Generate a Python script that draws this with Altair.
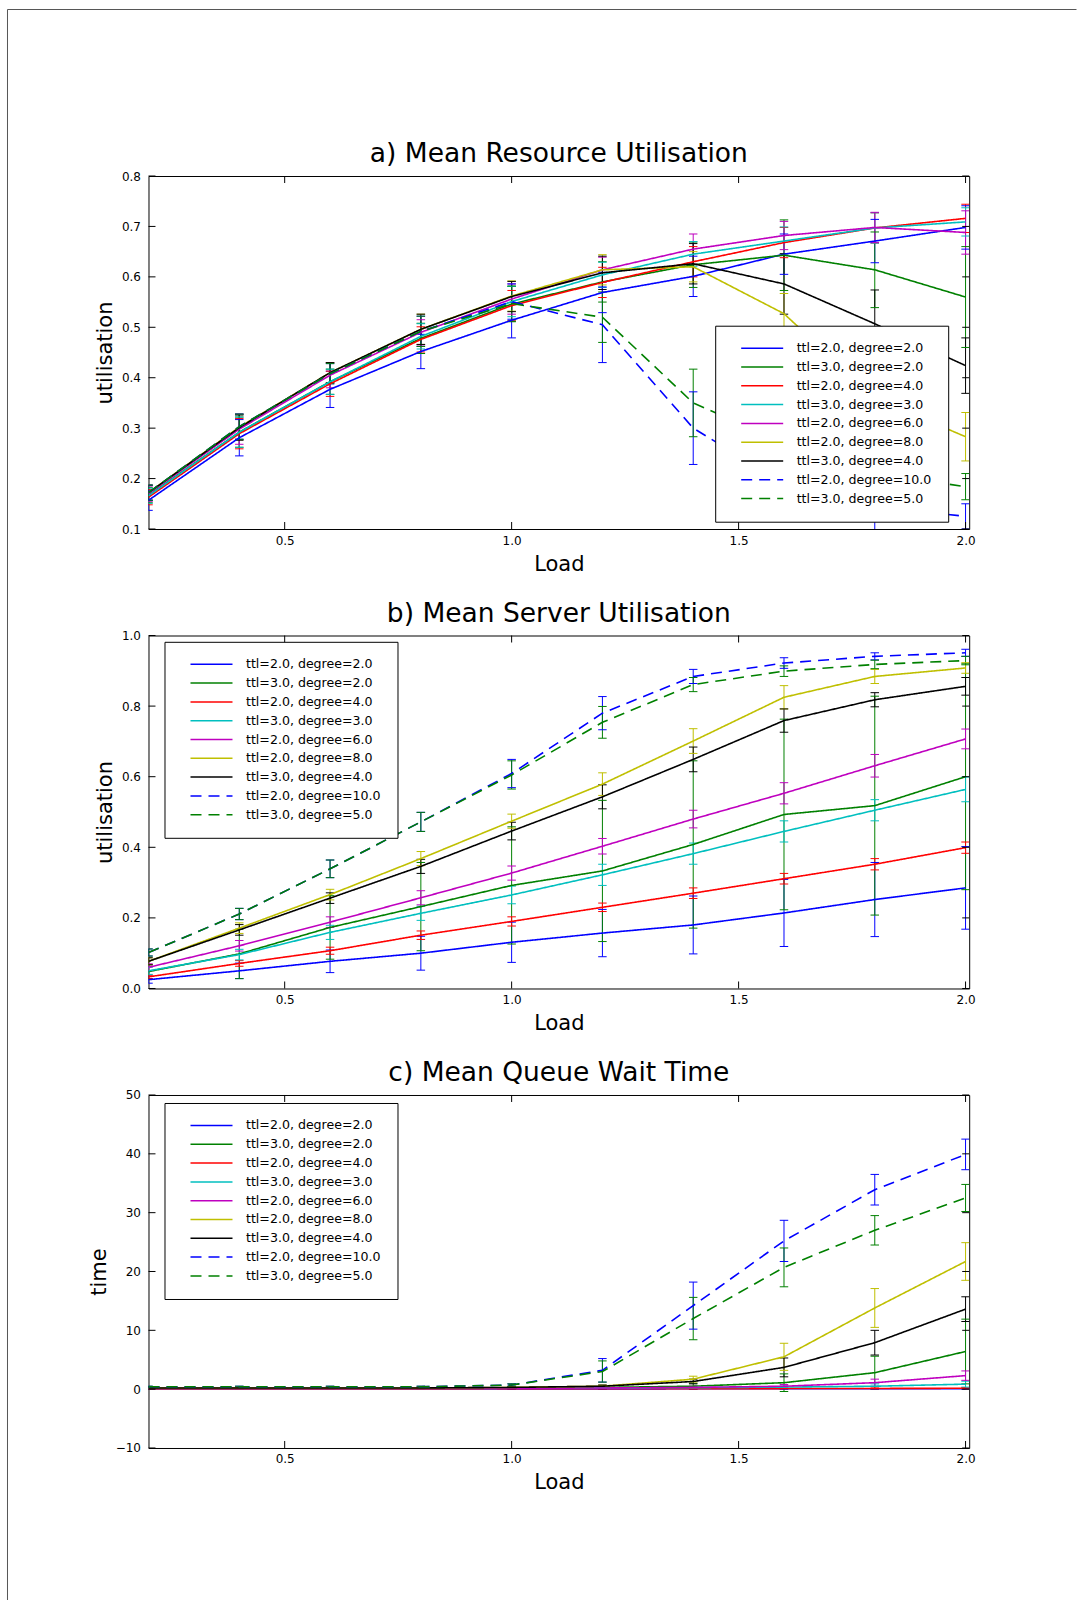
import altair as alt
import pandas as pd

# ---------------- data ----------------
LOAD = [0.2, 0.4, 0.6, 0.8, 1.0, 1.2, 1.4, 1.6, 1.8, 2.0]
SERIES = [
    "ttl=2.0, degree=2.0", "ttl=3.0, degree=2.0", "ttl=2.0, degree=4.0",
    "ttl=3.0, degree=3.0", "ttl=2.0, degree=6.0", "ttl=2.0, degree=8.0",
    "ttl=3.0, degree=4.0", "ttl=2.0, degree=10.0", "ttl=3.0, degree=5.0",
]
TITLES = ["a) Mean Resource Utilisation", "b) Mean Server Utilisation",
          "c) Mean Queue Wait Time"]
XTICKS = [0.5, 1.0, 1.5, 2.0]
YTICKS_A = [0.1, 0.2, 0.3, 0.4, 0.5, 0.6, 0.7, 0.8]
YTICKS_B = [0.0, 0.2, 0.4, 0.6, 0.8, 1.0]
YTICKS_C = [-10, 0, 10, 20, 30, 40, 50]

# a) Mean Resource Utilisation
A_B22 = [0.157, 0.281, 0.377, 0.452, 0.514, 0.569, 0.601, 0.645, 0.671, 0.698]
A_G32 = [0.167, 0.292, 0.392, 0.478, 0.546, 0.590, 0.624, 0.643, 0.614, 0.560]
A_R24 = [0.163, 0.289, 0.388, 0.476, 0.543, 0.589, 0.630, 0.668, 0.697, 0.716]
A_C33 = [0.166, 0.292, 0.392, 0.482, 0.551, 0.604, 0.645, 0.671, 0.697, 0.709]
A_M26 = [0.170, 0.298, 0.405, 0.490, 0.556, 0.614, 0.655, 0.682, 0.698, 0.688]
A_Y28 = [0.172, 0.302, 0.410, 0.496, 0.562, 0.614, 0.620, 0.527, 0.360, 0.283]
A_K34 = [0.172, 0.301, 0.410, 0.496, 0.561, 0.608, 0.626, 0.586, 0.507, 0.424]
A_B210 = [0.172, 0.303, 0.408, 0.492, 0.551, 0.505, 0.300, 0.190, 0.145, 0.125]
A_G35 = [0.172, 0.303, 0.408, 0.492, 0.547, 0.520, 0.350, 0.270, 0.210, 0.184]

EA_B22 = [0.020, 0.036, 0.036, 0.034, 0.035, 0.040, 0.040, 0.040, 0.043, 0.043]
EA_G32 = [0.015, 0.030, 0.025, 0.030, 0.035, 0.040, 0.045, 0.070, 0.075, 0.100]
EA_R24 = [0.015, 0.030, 0.025, 0.025, 0.030, 0.030, 0.030, 0.030, 0.030, 0.028]
EA_C33 = [0.015, 0.030, 0.025, 0.025, 0.030, 0.025, 0.025, 0.028, 0.030, 0.028]
EA_M26 = [0.015, 0.030, 0.025, 0.025, 0.030, 0.025, 0.030, 0.028, 0.030, 0.043]
EA_Y28 = [0.015, 0.025, 0.020, 0.030, 0.030, 0.030, 0.030, 0.040, 0.050, 0.048]
EA_K34 = [0.015, 0.025, 0.020, 0.030, 0.030, 0.033, 0.040, 0.060, 0.067, 0.055]
EA_B210 = [0.015, 0.025, 0.020, 0.030, 0.035, 0.075, 0.072, 0.060, 0.050, 0.025]
EA_G35 = [0.015, 0.025, 0.020, 0.030, 0.035, 0.050, 0.067, 0.060, 0.050, 0.026]

# b) Mean Server Utilisation
B_B22 = [0.025, 0.050, 0.077, 0.100, 0.131, 0.157, 0.180, 0.214, 0.252, 0.285]
B_G32 = [0.048, 0.098, 0.173, 0.232, 0.292, 0.333, 0.408, 0.493, 0.518, 0.600]
B_R24 = [0.033, 0.071, 0.107, 0.151, 0.190, 0.230, 0.270, 0.311, 0.352, 0.399]
B_C33 = [0.050, 0.096, 0.159, 0.213, 0.265, 0.322, 0.382, 0.445, 0.505, 0.564]
B_M26 = [0.060, 0.121, 0.188, 0.257, 0.327, 0.403, 0.480, 0.553, 0.631, 0.707]
B_Y28 = [0.077, 0.171, 0.266, 0.368, 0.474, 0.579, 0.701, 0.825, 0.884, 0.908]
B_K34 = [0.077, 0.166, 0.256, 0.346, 0.446, 0.543, 0.649, 0.759, 0.818, 0.856]
B_B210 = [0.102, 0.211, 0.339, 0.472, 0.609, 0.780, 0.884, 0.922, 0.941, 0.951]
B_G35 = [0.102, 0.211, 0.339, 0.472, 0.605, 0.754, 0.861, 0.899, 0.918, 0.929]

EB_B22 = [0.010, 0.022, 0.032, 0.048, 0.057, 0.067, 0.082, 0.095, 0.105, 0.117]
EB_G32 = [0.020, 0.070, 0.090, 0.125, 0.166, 0.200, 0.237, 0.270, 0.310, 0.320]
EB_R24 = [0.005, 0.008, 0.010, 0.012, 0.013, 0.012, 0.015, 0.015, 0.016, 0.016]
EB_C33 = [0.010, 0.015, 0.020, 0.020, 0.025, 0.030, 0.030, 0.030, 0.030, 0.035]
EB_M26 = [0.010, 0.015, 0.015, 0.020, 0.020, 0.022, 0.025, 0.030, 0.032, 0.028]
EB_Y28 = [0.010, 0.015, 0.015, 0.020, 0.020, 0.032, 0.035, 0.033, 0.020, 0.015]
EB_K34 = [0.010, 0.015, 0.015, 0.020, 0.025, 0.034, 0.035, 0.033, 0.020, 0.025]
EB_B210 = [0.010, 0.016, 0.025, 0.027, 0.040, 0.047, 0.020, 0.015, 0.010, 0.010]
EB_G35 = [0.010, 0.016, 0.025, 0.027, 0.040, 0.045, 0.020, 0.015, 0.012, 0.012]

# c) Mean Queue Wait Time
C_B22 = [0.05, 0.05, 0.05, 0.05, 0.05, 0.05, 0.06, 0.06, 0.07, 0.08]
C_G32 = [0.10, 0.10, 0.10, 0.10, 0.20, 0.30, 0.50, 1.10, 2.80, 6.40]
C_R24 = [0.05, 0.05, 0.05, 0.05, 0.06, 0.07, 0.08, 0.10, 0.12, 0.15]
C_C33 = [0.10, 0.10, 0.10, 0.10, 0.15, 0.20, 0.25, 0.35, 0.50, 0.85]
C_M26 = [0.10, 0.10, 0.10, 0.10, 0.15, 0.20, 0.30, 0.50, 1.10, 2.30]
C_Y28 = [0.20, 0.20, 0.20, 0.20, 0.30, 0.50, 1.70, 5.50, 13.80, 21.70]
C_K34 = [0.20, 0.20, 0.20, 0.20, 0.30, 0.50, 1.30, 3.70, 7.90, 13.60]
C_B210 = [0.40, 0.40, 0.40, 0.40, 0.70, 3.20, 14.20, 25.20, 33.90, 39.90]
C_G35 = [0.40, 0.40, 0.40, 0.40, 0.70, 3.00, 12.00, 20.70, 27.00, 32.50]

EC_B22 = [0.05, 0.05, 0.05, 0.05, 0.05, 0.05, 0.05, 0.05, 0.05, 0.05]
EC_G32 = [0.10, 0.10, 0.10, 0.10, 0.10, 0.30, 0.50, 1.50, 2.80, 5.50]
EC_R24 = [0.05, 0.05, 0.05, 0.05, 0.05, 0.05, 0.05, 0.05, 0.08, 0.10]
EC_C33 = [0.05, 0.05, 0.05, 0.05, 0.05, 0.10, 0.10, 0.20, 0.40, 0.50]
EC_M26 = [0.05, 0.05, 0.05, 0.05, 0.05, 0.10, 0.20, 0.30, 0.60, 0.80]
EC_Y28 = [0.10, 0.10, 0.10, 0.10, 0.10, 0.20, 0.50, 2.30, 3.30, 3.20]
EC_K34 = [0.10, 0.10, 0.10, 0.10, 0.10, 0.20, 0.40, 1.60, 2.10, 2.10]
EC_B210 = [0.10, 0.10, 0.10, 0.10, 0.20, 2.00, 4.00, 3.50, 2.60, 2.60]
EC_G35 = [0.10, 0.10, 0.10, 0.10, 0.20, 1.80, 3.60, 3.30, 2.50, 2.30]

# ---------------- styles ----------------
COLORS = ["#0000ff", "#008000", "#ff0000", "#00bfbf", "#bf00bf",
          "#bfbf00", "#000000", "#0000ff", "#008000"]
DASHES = [[1, 0], [1, 0], [1, 0], [1, 0], [1, 0], [1, 0], [1, 0], [11, 7], [11, 7]]

FONT = "DejaVu Sans"
W = 820.7
H = 353
XSCALE = alt.Scale(domain=[0.2, 2.008], nice=False, zero=False)


def build_df(values, errors):
    rows = []
    for s, vals, errs in zip(SERIES, values, errors):
        for l, v, e in zip(LOAD, vals, errs):
            rows.append({"load": l, "value": v, "lo": v - e, "hi": v + e, "series": s})
    return pd.DataFrame(rows)


def panel(values, errors, title, ytitle, ydomain, yticks, yfmt, lx, ly, frame=False):
    df = build_df(values, errors)
    yscale = alt.Scale(domain=ydomain, nice=False, zero=False)
    cscale = alt.Scale(domain=SERIES, range=COLORS)
    dscale = alt.Scale(domain=SERIES, range=DASHES)
    leg = alt.Legend(
        title=None, orient="none", legendX=lx, legendY=ly,
        symbolType="stroke", symbolSize=1764, symbolStrokeWidth=1.5,
        clipHeight=13, rowPadding=4.8, padding=16, symbolOffset=9,
        labelOffset=12.5, labelFont=FONT, labelFontSize=12.6, labelColor="black",
        strokeColor="black", fillColor="white", cornerRadius=0, zindex=1,
        labelLimit=0,
    )
    xaxis = alt.Axis(values=XTICKS, format=".1f", title="Load")
    yaxis = alt.Axis(values=yticks, format=yfmt, title=ytitle)

    def X(f):
        return alt.X(f, scale=XSCALE, axis=xaxis)

    def Y(f):
        return alt.Y(f, scale=yscale, axis=yaxis)

    color = alt.Color("series:N", scale=cscale, legend=leg)
    dash = alt.StrokeDash("series:N", scale=dscale, legend=leg)

    bars = alt.Chart(df).mark_rule(strokeWidth=1, clip=True).encode(
        x=X("load:Q"), y=Y("lo:Q"), y2="hi:Q", color=color)
    caps = alt.Chart(df).transform_fold(["lo", "hi"], as_=["end", "cap"]).mark_point(
        shape="stroke", size=72, strokeWidth=1, filled=False, opacity=1, clip=True
    ).encode(x=X("load:Q"), y=Y("cap:Q"), color=color)
    lines = alt.Chart(df).mark_line(strokeWidth=1.6, clip=True).encode(
        x=X("load:Q"), y=Y("value:Q"), color=color, strokeDash=dash)

    xt = pd.DataFrame({"t": XTICKS})
    yt = pd.DataFrame({"t": yticks})
    tk = dict(strokeWidth=1, color="black")
    t1 = alt.Chart(xt).mark_rule(**tk).encode(x=X("t:Q"), y=alt.value(H), y2=alt.value(H - 7))
    t2 = alt.Chart(xt).mark_rule(**tk).encode(x=X("t:Q"), y=alt.value(0), y2=alt.value(7))
    t3 = alt.Chart(yt).mark_rule(**tk).encode(y=Y("t:Q"), x=alt.value(0), x2=alt.value(7))
    t4 = alt.Chart(yt).mark_rule(**tk).encode(y=Y("t:Q"), x=alt.value(W), x2=alt.value(W - 7))

    one = pd.DataFrame({"k": [0]})
    ttl = alt.Chart(one).mark_text(
        text=title, font=FONT, fontSize=26.5, color="black", align="center",
        baseline="alphabetic").encode(x=alt.value(W / 2), y=alt.value(-14))
    layers = [bars, caps, lines, t1, t2, t3, t4, ttl]
    if frame:
        # figure border (top and left edges of the figure canvas)
        layers.append(alt.Chart(one).mark_rule(color="#555555", strokeWidth=1).encode(
            x=alt.value(-141), y=alt.value(-166.5), y2=alt.value(1424)))
        layers.append(alt.Chart(one).mark_rule(color="#555555", strokeWidth=1).encode(
            x=alt.value(-141), x2=alt.value(928), y=alt.value(-166.5)))

    return alt.layer(*layers).properties(width=W, height=H)


pa = panel([A_B22, A_G32, A_R24, A_C33, A_M26, A_Y28, A_K34, A_B210, A_G35],
           [EA_B22, EA_G32, EA_R24, EA_C33, EA_M26, EA_Y28, EA_K34, EA_B210, EA_G35],
           TITLES[0], "utilisation", [0.1, 0.8], YTICKS_A, ".1f",
           566.7, 149.7, frame=True)
pb = panel([B_B22, B_G32, B_R24, B_C33, B_M26, B_Y28, B_K34, B_B210, B_G35],
           [EB_B22, EB_G32, EB_R24, EB_C33, EB_M26, EB_Y28, EB_K34, EB_B210, EB_G35],
           TITLES[1], "utilisation", [0.0, 1.0], YTICKS_B, ".1f", 16, 6.3)
pc = panel([C_B22, C_G32, C_R24, C_C33, C_M26, C_Y28, C_K34, C_B210, C_G35],
           [EC_B22, EC_G32, EC_R24, EC_C33, EC_M26, EC_Y28, EC_K34, EC_B210, EC_G35],
           TITLES[2], "time", [-10, 50], YTICKS_C, "d", 16, 8)

chart = alt.vconcat(pa, pb, pc, spacing=106.5, bounds="flush").resolve_scale(
    color="independent", strokeDash="independent", x="independent", y="independent"
).resolve_legend(color="independent", strokeDash="independent").properties(
    padding={"left": 6.5, "top": 8, "right": 0, "bottom": 0},
    background="white",
).configure_view(stroke="black", strokeWidth=1).configure_axis(
    grid=False, domain=False, ticks=False, tickSize=0,
    labelFont=FONT, labelFontSize=12, labelColor="black",
    titleFont=FONT, titleFontSize=21, titleFontWeight="normal", titleColor="black",
    labelFlush=False, labelOverlap=False, labelBound=False,
).configure_axisX(labelPadding=6, titlePadding=7).configure_axisY(
    labelPadding=8, titlePadding=6)

chart.save("out.html", embed_options={"renderer": "svg", "actions": False})
